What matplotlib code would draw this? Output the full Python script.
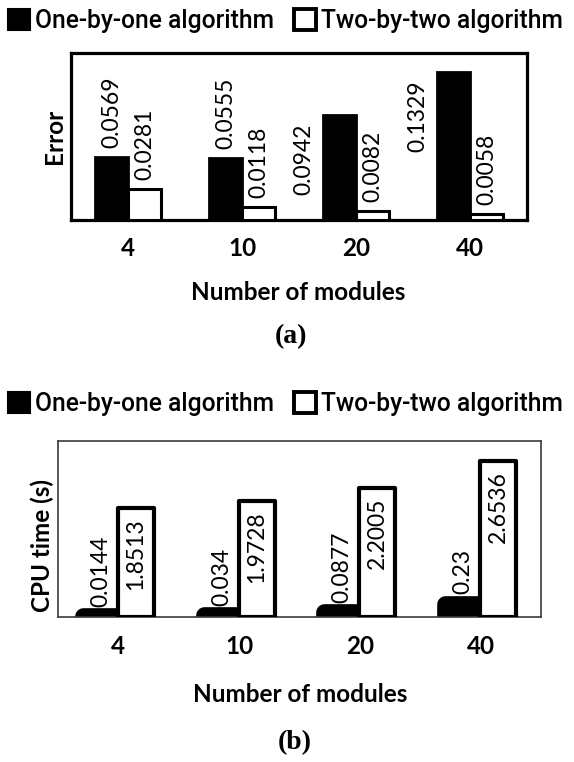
import matplotlib
matplotlib.use('Agg')
import matplotlib.pyplot as plt
from matplotlib.patches import Patch

# ---------------- data ----------------
categories = ['4', '10', '20', '40']
series_names = ['One-by-one algorithm', 'Two-by-two algorithm']
error_one = [0.0569, 0.0555, 0.0942, 0.1329]
error_two = [0.0281, 0.0118, 0.0082, 0.0058]
cpu_one = [0.0144, 0.034, 0.0877, 0.23]
cpu_two = [1.8513, 1.9728, 2.2005, 2.6536]
x_title = 'Number of modules'
y_title_a = 'Error'
y_title_b = 'CPU time (s)'

W, H = 574, 762
fig = plt.figure(figsize=(W / 100, H / 100), dpi=100)

LBL = dict(family='Lato', size=16.5)
TCK = dict(family='Lato', size=17.5, weight='bold')
LEG = dict(family='Roboto', size=17.7, weight='medium')


def fx(px):
    return px / W


def fy(py):
    return 1 - py / H


def legend(y_px, x_px):
    handles = [Patch(facecolor='black', edgecolor='black', linewidth=1.5),
               Patch(facecolor='white', edgecolor='black', linewidth=2.8)]
    fig.legend(handles, series_names, loc='center left',
               bbox_to_anchor=(fx(x_px), fy(y_px)), ncol=2, frameon=False,
               borderpad=0, borderaxespad=0, handlelength=0.9,
               handleheight=0.9, handletextpad=0.2, columnspacing=0.8,
               prop=LEG)


def setup(ax, ymax, spine_lw, spine_col, tick_pad):
    n = len(categories)
    ax.set_xlim(-0.5, n - 0.5)
    ax.set_ylim(0, ymax)
    ax.set_xticks(range(n))
    ax.set_xticklabels(categories, **TCK)
    ax.set_yticks([])
    ax.tick_params(axis='x', length=0, pad=tick_pad)
    for s in ax.spines.values():
        s.set_linewidth(spine_lw)
        s.set_edgecolor(spine_col)


# ---------------- panel (a) ----------------
ax1 = fig.add_axes([fx(71), fy(220), fx(456), 167 / H])
ymax1 = 0.15
setup(ax1, ymax1, 2.3, 'black', 12)
pos = range(len(categories))
w1, off1 = 0.29, 0.145
b1 = ax1.bar([p - off1 for p in pos], error_one, width=w1, color='black',
             edgecolor='black', linewidth=2.0, zorder=2)
b2 = ax1.bar([p + off1 for p in pos], error_two, width=w1, color='white',
             edgecolor='black', linewidth=2.2, zorder=3)
for p, v in zip(pos, error_one):
    if v > 0.5 * ymax1:
        ax1.annotate(format(v, 'g'), (p - off1 - w1 / 2, v), xytext=(-6, -6),
                     textcoords='offset points', rotation=90, ha='right',
                     va='top', **LBL)
    else:
        ax1.annotate(format(v, 'g'), (p - off1, v), xytext=(0, 6.5),
                     textcoords='offset points', rotation=90, ha='center',
                     va='bottom', **LBL)
for p, v in zip(pos, error_two):
    ax1.annotate(format(v, 'g'), (p + off1, v), xytext=(0, 6.5),
                 textcoords='offset points', rotation=90, ha='center',
                 va='bottom', **LBL)
ax1.set_ylabel(y_title_a, va='center', ha='center', **TCK)
ax1.yaxis.set_label_coords((55 - 71) / 456, 0.5)
ax1.set_xlabel(x_title, va='center', ha='center', **TCK)
ax1.xaxis.set_label_coords((298 - 71) / 456, (220 - 292) / 167)
fig.text(fx(291), fy(337), '(a)', family='Liberation Serif', weight='bold',
         size=20, ha='center', va='center')
legend(21, 8)

# ---------------- panel (b) ----------------
ax2 = fig.add_axes([fx(58), fy(617), fx(483), 176 / H])
ymax2 = 3.0
setup(ax2, ymax2, 1.2, '#3a3a3a', 13)
w2, off2 = 0.30, 0.145
c1 = ax2.bar([p - off2 for p in pos], cpu_one, width=w2, color='black',
             edgecolor='black', linewidth=12, zorder=2)
for r in c1:
    r.set_joinstyle('round')
c2 = ax2.bar([p + off2 for p in pos], cpu_two, width=w2, color='white',
             edgecolor='black', linewidth=3, zorder=3)
for r in c2:
    r.set_joinstyle('round')
for p, v in zip(pos, cpu_one):
    ax2.annotate(format(v, 'g'), (p - off2, v), xytext=(0, 6.5),
                 textcoords='offset points', rotation=90, ha='center',
                 va='bottom', zorder=4, **LBL)
for p, v in zip(pos, cpu_two):
    ax2.annotate(format(v, 'g'), (p + off2, v), xytext=(0, -7),
                 textcoords='offset points', rotation=90, ha='center',
                 va='top', zorder=4, **LBL)
ax2.set_ylabel(y_title_b, va='center', ha='center', **TCK)
ax2.yaxis.set_label_coords((42 - 58) / 483, (617 - 545) / 176)
ax2.set_xlabel(x_title, va='center', ha='center', **TCK)
ax2.xaxis.set_label_coords((300 - 58) / 483, (617 - 694) / 176)
fig.text(fx(295), fy(743), '(b)', family='Liberation Serif', weight='bold',
         size=20, ha='center', va='center')
legend(404, 8)

fig.savefig('out.png', dpi=100)
